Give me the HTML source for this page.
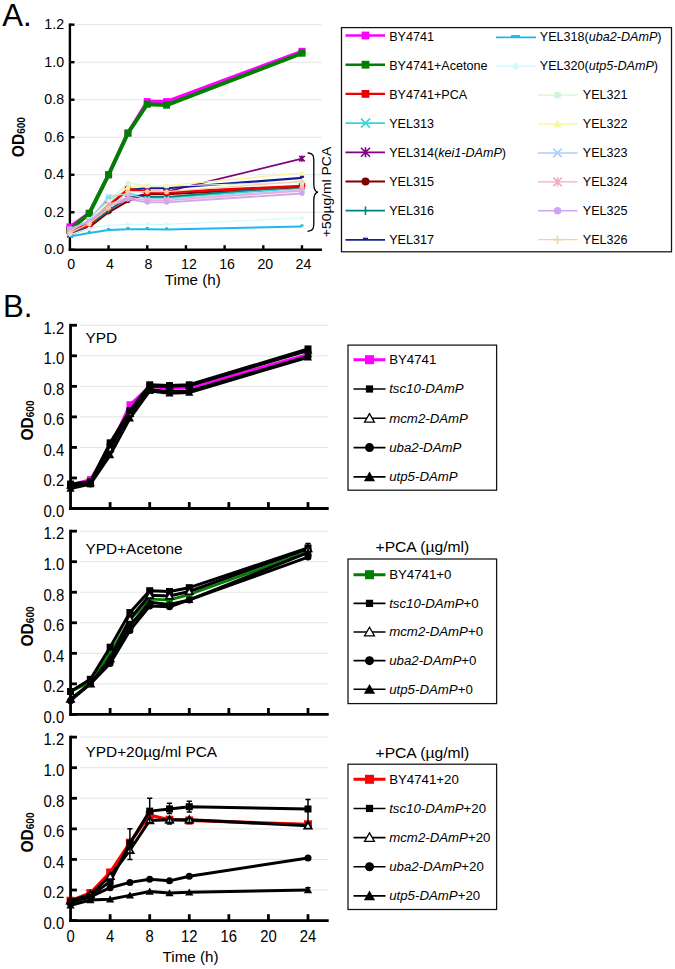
<!DOCTYPE html>
<html><head><meta charset="utf-8"><title>Growth curves</title>
<style>
html,body{margin:0;padding:0;background:#fff;}
body{width:675px;height:969px;overflow:hidden;}
svg{display:block;}
text{font-family:"Liberation Sans", sans-serif;fill:#000;}
</style></head>
<body>
<svg width="675" height="969" viewBox="0 0 675 969">
<rect width="675" height="969" fill="#fff"/>
<text x="2.2" y="25.5" font-size="31.2">A.</text>
<line x1="76.2" y1="212.28" x2="321.5" y2="212.28" stroke="#e4e4e4" stroke-width="1"/>
<line x1="76.2" y1="174.76" x2="321.5" y2="174.76" stroke="#e4e4e4" stroke-width="1"/>
<line x1="76.2" y1="137.24" x2="321.5" y2="137.24" stroke="#e4e4e4" stroke-width="1"/>
<line x1="76.2" y1="99.72" x2="321.5" y2="99.72" stroke="#e4e4e4" stroke-width="1"/>
<line x1="76.2" y1="62.2" x2="321.5" y2="62.2" stroke="#e4e4e4" stroke-width="1"/>
<line x1="76.2" y1="24.68" x2="321.5" y2="24.68" stroke="#e4e4e4" stroke-width="1"/>
<line x1="69.9" y1="23.48" x2="69.9" y2="251" stroke="#000" stroke-width="2.4"/>
<line x1="69.9" y1="249.8" x2="74.5" y2="249.8" stroke="#000" stroke-width="2.4"/>
<text transform="translate(64.1 254.4) scale(1.000 1.060)" font-size="14.2" text-anchor="end">0.0</text>
<line x1="69.9" y1="212.28" x2="74.5" y2="212.28" stroke="#000" stroke-width="2.4"/>
<text transform="translate(64.1 216.88) scale(1.000 1.060)" font-size="14.2" text-anchor="end">0.2</text>
<line x1="69.9" y1="174.76" x2="74.5" y2="174.76" stroke="#000" stroke-width="2.4"/>
<text transform="translate(64.1 179.36) scale(1.000 1.060)" font-size="14.2" text-anchor="end">0.4</text>
<line x1="69.9" y1="137.24" x2="74.5" y2="137.24" stroke="#000" stroke-width="2.4"/>
<text transform="translate(64.1 141.84) scale(1.000 1.060)" font-size="14.2" text-anchor="end">0.6</text>
<line x1="69.9" y1="99.72" x2="74.5" y2="99.72" stroke="#000" stroke-width="2.4"/>
<text transform="translate(64.1 104.32) scale(1.000 1.060)" font-size="14.2" text-anchor="end">0.8</text>
<line x1="69.9" y1="62.2" x2="74.5" y2="62.2" stroke="#000" stroke-width="2.4"/>
<text transform="translate(64.1 66.8) scale(1.000 1.060)" font-size="14.2" text-anchor="end">1.0</text>
<line x1="69.9" y1="24.68" x2="74.5" y2="24.68" stroke="#000" stroke-width="2.4"/>
<text transform="translate(64.1 29.28) scale(1.000 1.060)" font-size="14.2" text-anchor="end">1.2</text>
<line x1="68.7" y1="249.8" x2="322" y2="249.8" stroke="#000" stroke-width="2.4"/>
<line x1="108.58" y1="249.8" x2="108.58" y2="245.2" stroke="#000" stroke-width="2.4"/>
<line x1="147.26" y1="249.8" x2="147.26" y2="245.2" stroke="#000" stroke-width="2.4"/>
<line x1="185.94" y1="249.8" x2="185.94" y2="245.2" stroke="#000" stroke-width="2.4"/>
<line x1="224.62" y1="249.8" x2="224.62" y2="245.2" stroke="#000" stroke-width="2.4"/>
<line x1="263.3" y1="249.8" x2="263.3" y2="245.2" stroke="#000" stroke-width="2.4"/>
<line x1="301.98" y1="249.8" x2="301.98" y2="245.2" stroke="#000" stroke-width="2.4"/>
<text transform="translate(71.2 268.6) scale(1.000 1.060)" font-size="14.2" text-anchor="middle">0</text>
<text transform="translate(109.88 268.6) scale(1.000 1.060)" font-size="14.2" text-anchor="middle">4</text>
<text transform="translate(148.56 268.6) scale(1.000 1.060)" font-size="14.2" text-anchor="middle">8</text>
<text transform="translate(188.94 268.6) scale(1.000 1.060)" font-size="14.2" text-anchor="middle">12</text>
<text transform="translate(227.12 268.6) scale(1.000 1.060)" font-size="14.2" text-anchor="middle">16</text>
<text transform="translate(265.3 268.6) scale(1.000 1.060)" font-size="14.2" text-anchor="middle">20</text>
<text transform="translate(303.48 268.6) scale(1.000 1.060)" font-size="14.2" text-anchor="middle">24</text>
<text transform="translate(192.8 285.2) scale(1.055 1.000)" font-size="14.4" text-anchor="middle">Time (h)</text>
<text transform="translate(24.2 137.1) rotate(-90)" font-size="15.6" font-weight="bold" text-anchor="middle">OD<tspan font-size="10" dy="1.2">600</tspan></text>
<polyline points="69.9,226.91 89.24,213.22 108.58,174.76 127.92,133.11 147.26,101.6 166.6,101.6 301.98,51.32" fill="none" stroke="#ff00ff" stroke-width="3.6" stroke-linejoin="round" stroke-linecap="butt"/>
<rect x="66.4" y="223.41" width="7" height="7" fill="#ff00ff"/>
<rect x="85.74" y="209.72" width="7" height="7" fill="#ff00ff"/>
<rect x="105.08" y="171.26" width="7" height="7" fill="#ff00ff"/>
<rect x="124.42" y="129.61" width="7" height="7" fill="#ff00ff"/>
<rect x="143.76" y="98.1" width="7" height="7" fill="#ff00ff"/>
<rect x="163.1" y="98.1" width="7" height="7" fill="#ff00ff"/>
<rect x="298.48" y="47.82" width="7" height="7" fill="#ff00ff"/>
<polyline points="69.9,230.1 89.24,213.41 108.58,174.76 127.92,133.11 147.26,104.22 166.6,105.16 301.98,53.2" fill="none" stroke="#008000" stroke-width="3.9" stroke-linejoin="round" stroke-linecap="butt"/>
<rect x="66.4" y="226.6" width="7" height="7" fill="#008000"/>
<rect x="85.74" y="209.91" width="7" height="7" fill="#008000"/>
<rect x="105.08" y="171.26" width="7" height="7" fill="#008000"/>
<rect x="124.42" y="129.61" width="7" height="7" fill="#008000"/>
<rect x="143.76" y="100.72" width="7" height="7" fill="#008000"/>
<rect x="163.1" y="101.66" width="7" height="7" fill="#008000"/>
<rect x="298.48" y="49.7" width="7" height="7" fill="#008000"/>
<polyline points="69.9,232.92 89.24,221.66 108.58,199.15 127.92,193.52 147.26,197.83 166.6,197.83 301.98,187.89" fill="none" stroke="#33d6d6" stroke-width="2" stroke-linejoin="round" stroke-linecap="butt"/>
<path d="M67.4 230.42L72.4 235.42M67.4 235.42L72.4 230.42" stroke="#33d6d6" stroke-width="1.6" fill="none"/>
<path d="M86.74 219.16L91.74 224.16M86.74 224.16L91.74 219.16" stroke="#33d6d6" stroke-width="1.6" fill="none"/>
<path d="M106.08 196.65L111.08 201.65M106.08 201.65L111.08 196.65" stroke="#33d6d6" stroke-width="1.6" fill="none"/>
<path d="M125.42 191.02L130.42 196.02M125.42 196.02L130.42 191.02" stroke="#33d6d6" stroke-width="1.6" fill="none"/>
<path d="M144.76 195.33L149.76 200.33M144.76 200.33L149.76 195.33" stroke="#33d6d6" stroke-width="1.6" fill="none"/>
<path d="M164.1 195.33L169.1 200.33M164.1 200.33L169.1 195.33" stroke="#33d6d6" stroke-width="1.6" fill="none"/>
<path d="M299.48 185.39L304.48 190.39M299.48 190.39L304.48 185.39" stroke="#33d6d6" stroke-width="1.6" fill="none"/>
<polyline points="69.9,234.79 89.24,225.41 108.58,210.4 127.92,198.21 147.26,193.52 166.6,191.64 301.98,158.63" fill="none" stroke="#800080" stroke-width="1.7" stroke-linejoin="round" stroke-linecap="butt"/>
<path d="M67.15 232.04L72.65 237.54M67.15 237.54L72.65 232.04M69.9 231.77L69.9 237.82" stroke="#800080" stroke-width="1.6" fill="none"/>
<path d="M86.49 222.66L91.99 228.16M86.49 228.16L91.99 222.66M89.24 222.39L89.24 228.44" stroke="#800080" stroke-width="1.6" fill="none"/>
<path d="M105.83 207.65L111.33 213.15M105.83 213.15L111.33 207.65M108.58 207.38L108.58 213.43" stroke="#800080" stroke-width="1.6" fill="none"/>
<path d="M125.17 195.46L130.67 200.96M125.17 200.96L130.67 195.46M127.92 195.19L127.92 201.24" stroke="#800080" stroke-width="1.6" fill="none"/>
<path d="M144.51 190.77L150.01 196.27M144.51 196.27L150.01 190.77M147.26 190.5L147.26 196.55" stroke="#800080" stroke-width="1.6" fill="none"/>
<path d="M163.85 188.89L169.35 194.39M163.85 194.39L169.35 188.89M166.6 188.62L166.6 194.67" stroke="#800080" stroke-width="1.6" fill="none"/>
<path d="M299.23 155.88L304.73 161.38M299.23 161.38L304.73 155.88M301.98 155.6L301.98 161.65" stroke="#800080" stroke-width="1.6" fill="none"/>
<polyline points="69.9,234.79 89.24,227.29 108.58,212.28 127.92,201.02 147.26,194.08 166.6,194.27 301.98,186.95" fill="none" stroke="#800000" stroke-width="2" stroke-linejoin="round" stroke-linecap="butt"/>
<circle cx="69.9" cy="234.79" r="2.25" fill="#800000"/>
<circle cx="89.24" cy="227.29" r="2.25" fill="#800000"/>
<circle cx="108.58" cy="212.28" r="2.25" fill="#800000"/>
<circle cx="127.92" cy="201.02" r="2.25" fill="#800000"/>
<circle cx="147.26" cy="194.08" r="2.25" fill="#800000"/>
<circle cx="166.6" cy="194.27" r="2.25" fill="#800000"/>
<circle cx="301.98" cy="186.95" r="2.25" fill="#800000"/>
<polyline points="69.9,232.92 89.24,225.41 108.58,210.4 127.92,197.27 147.26,196.9 166.6,196.9 301.98,186.02" fill="none" stroke="#008080" stroke-width="1.6" stroke-linejoin="round" stroke-linecap="butt"/>
<path d="M69.9 229.92L69.9 235.92" stroke="#008080" stroke-width="1.6" fill="none"/>
<path d="M89.24 222.41L89.24 228.41" stroke="#008080" stroke-width="1.6" fill="none"/>
<path d="M108.58 207.4L108.58 213.4" stroke="#008080" stroke-width="1.6" fill="none"/>
<path d="M127.92 194.27L127.92 200.27" stroke="#008080" stroke-width="1.6" fill="none"/>
<path d="M147.26 193.9L147.26 199.9" stroke="#008080" stroke-width="1.6" fill="none"/>
<path d="M166.6 193.9L166.6 199.9" stroke="#008080" stroke-width="1.6" fill="none"/>
<path d="M301.98 183.02L301.98 189.02" stroke="#008080" stroke-width="1.6" fill="none"/>
<polyline points="69.9,231.04 89.24,223.54 108.58,206.65 127.92,189.77 147.26,188.27 166.6,188.27 301.98,177.95" fill="none" stroke="#1a1a9a" stroke-width="2.2" stroke-linejoin="round" stroke-linecap="butt"/>
<rect x="67.9" y="228.84" width="4" height="2.2" fill="#1a1a9a"/>
<rect x="87.24" y="221.34" width="4" height="2.2" fill="#1a1a9a"/>
<rect x="106.58" y="204.45" width="4" height="2.2" fill="#1a1a9a"/>
<rect x="125.92" y="187.57" width="4" height="2.2" fill="#1a1a9a"/>
<rect x="145.26" y="186.07" width="4" height="2.2" fill="#1a1a9a"/>
<rect x="164.6" y="186.07" width="4" height="2.2" fill="#1a1a9a"/>
<rect x="299.98" y="175.75" width="4" height="2.2" fill="#1a1a9a"/>
<polyline points="69.9,231.04 89.24,224.1 108.58,204.78 127.92,189.02 147.26,191.83 166.6,192.21 301.98,186.02" fill="none" stroke="#ee0000" stroke-width="2.6" stroke-linejoin="round" stroke-linecap="butt"/>
<rect x="67.3" y="228.44" width="5.2" height="5.2" fill="#f6c9bf" stroke="#ee0000" stroke-width="1.2"/>
<rect x="86.64" y="221.5" width="5.2" height="5.2" fill="#f6c9bf" stroke="#ee0000" stroke-width="1.2"/>
<rect x="105.98" y="202.18" width="5.2" height="5.2" fill="#f6c9bf" stroke="#ee0000" stroke-width="1.2"/>
<rect x="125.32" y="186.42" width="5.2" height="5.2" fill="#f6c9bf" stroke="#ee0000" stroke-width="1.2"/>
<rect x="144.66" y="189.23" width="5.2" height="5.2" fill="#f6c9bf" stroke="#ee0000" stroke-width="1.2"/>
<rect x="164" y="189.61" width="5.2" height="5.2" fill="#f6c9bf" stroke="#ee0000" stroke-width="1.2"/>
<rect x="299.38" y="183.42" width="5.2" height="5.2" fill="#f6c9bf" stroke="#ee0000" stroke-width="1.2"/>
<polyline points="69.9,236.48 89.24,232.92 108.58,230.1 127.92,229.16 147.26,229.16 166.6,229.54 301.98,226.54" fill="none" stroke="#20b8e8" stroke-width="2" stroke-linejoin="round" stroke-linecap="butt"/>
<rect x="68.4" y="234.28" width="3" height="2.2" fill="#20b8e8"/>
<rect x="87.74" y="230.72" width="3" height="2.2" fill="#20b8e8"/>
<rect x="107.08" y="227.9" width="3" height="2.2" fill="#20b8e8"/>
<rect x="126.42" y="226.96" width="3" height="2.2" fill="#20b8e8"/>
<rect x="145.76" y="226.96" width="3" height="2.2" fill="#20b8e8"/>
<rect x="165.1" y="227.34" width="3" height="2.2" fill="#20b8e8"/>
<rect x="300.48" y="224.34" width="3" height="2.2" fill="#20b8e8"/>
<polyline points="69.9,234.79 89.24,228.23 108.58,225.41 127.92,224.29 147.26,224.29 166.6,224.29 301.98,217.91" fill="none" stroke="#d2fafa" stroke-width="1.3" stroke-linejoin="round" stroke-linecap="butt"/>
<path d="M69.9 232.54L72.15 234.79L69.9 237.04L67.65 234.79Z" fill="#d2fafa"/>
<path d="M89.24 225.98L91.49 228.23L89.24 230.48L86.99 228.23Z" fill="#d2fafa"/>
<path d="M108.58 223.16L110.83 225.41L108.58 227.66L106.33 225.41Z" fill="#d2fafa"/>
<path d="M127.92 222.04L130.17 224.29L127.92 226.54L125.67 224.29Z" fill="#d2fafa"/>
<path d="M147.26 222.04L149.51 224.29L147.26 226.54L145.01 224.29Z" fill="#d2fafa"/>
<path d="M166.6 222.04L168.85 224.29L166.6 226.54L164.35 224.29Z" fill="#d2fafa"/>
<path d="M301.98 215.66L304.23 217.91L301.98 220.16L299.73 217.91Z" fill="#d2fafa"/>
<polyline points="69.9,231.04 89.24,219.78 108.58,201.02 127.92,183.2 147.26,186.02 166.6,186.02 301.98,182.26" fill="none" stroke="#d4f5d4" stroke-width="1.2" stroke-linejoin="round" stroke-linecap="butt"/>
<rect x="67.65" y="228.79" width="4.5" height="4.5" fill="#d4f5d4"/>
<rect x="86.99" y="217.53" width="4.5" height="4.5" fill="#d4f5d4"/>
<rect x="106.33" y="198.77" width="4.5" height="4.5" fill="#d4f5d4"/>
<rect x="125.67" y="180.95" width="4.5" height="4.5" fill="#d4f5d4"/>
<rect x="145.01" y="183.77" width="4.5" height="4.5" fill="#d4f5d4"/>
<rect x="164.35" y="183.77" width="4.5" height="4.5" fill="#d4f5d4"/>
<rect x="299.73" y="180.01" width="4.5" height="4.5" fill="#d4f5d4"/>
<polyline points="69.9,231.04 89.24,219.78 108.58,202.9 127.92,186.95 147.26,185.64 166.6,185.64 301.98,172.88" fill="none" stroke="#f7f7a0" stroke-width="1.4" stroke-linejoin="round" stroke-linecap="butt"/>
<path d="M69.9 228.42L72.65 233.17L67.15 233.17Z" fill="#f7f7a0"/>
<path d="M89.24 217.16L91.99 221.91L86.49 221.91Z" fill="#f7f7a0"/>
<path d="M108.58 200.28L111.33 205.03L105.83 205.03Z" fill="#f7f7a0"/>
<path d="M127.92 184.33L130.67 189.08L125.17 189.08Z" fill="#f7f7a0"/>
<path d="M147.26 183.02L150.01 187.77L144.51 187.77Z" fill="#f7f7a0"/>
<path d="M166.6 183.02L169.35 187.77L163.85 187.77Z" fill="#f7f7a0"/>
<path d="M301.98 170.26L304.73 175.01L299.23 175.01Z" fill="#f7f7a0"/>
<polyline points="69.9,231.04 89.24,219.78 108.58,196.52 127.92,193.52 147.26,199.15 166.6,199.15 301.98,189.77" fill="none" stroke="#a8d0f5" stroke-width="1.3" stroke-linejoin="round" stroke-linecap="butt"/>
<path d="M67.4 228.54L72.4 233.54M67.4 233.54L72.4 228.54" stroke="#a8d0f5" stroke-width="1.6" fill="none"/>
<path d="M86.74 217.28L91.74 222.28M86.74 222.28L91.74 217.28" stroke="#a8d0f5" stroke-width="1.6" fill="none"/>
<path d="M106.08 194.02L111.08 199.02M106.08 199.02L111.08 194.02" stroke="#a8d0f5" stroke-width="1.6" fill="none"/>
<path d="M125.42 191.02L130.42 196.02M125.42 196.02L130.42 191.02" stroke="#a8d0f5" stroke-width="1.6" fill="none"/>
<path d="M144.76 196.65L149.76 201.65M144.76 201.65L149.76 196.65" stroke="#a8d0f5" stroke-width="1.6" fill="none"/>
<path d="M164.1 196.65L169.1 201.65M164.1 201.65L169.1 196.65" stroke="#a8d0f5" stroke-width="1.6" fill="none"/>
<path d="M299.48 187.27L304.48 192.27M299.48 192.27L304.48 187.27" stroke="#a8d0f5" stroke-width="1.6" fill="none"/>
<polyline points="69.9,229.16 89.24,221.66 108.58,204.78 127.92,197.27 147.26,200.46 166.6,200.46 301.98,190.89" fill="none" stroke="#f5a8cc" stroke-width="1.6" stroke-linejoin="round" stroke-linecap="butt"/>
<path d="M67.4 226.66L72.4 231.66M67.4 231.66L72.4 226.66M69.9 226.41L69.9 231.91" stroke="#f5a8cc" stroke-width="1.6" fill="none"/>
<path d="M86.74 219.16L91.74 224.16M86.74 224.16L91.74 219.16M89.24 218.91L89.24 224.41" stroke="#f5a8cc" stroke-width="1.6" fill="none"/>
<path d="M106.08 202.28L111.08 207.28M106.08 207.28L111.08 202.28M108.58 202.03L108.58 207.53" stroke="#f5a8cc" stroke-width="1.6" fill="none"/>
<path d="M125.42 194.77L130.42 199.77M125.42 199.77L130.42 194.77M127.92 194.52L127.92 200.02" stroke="#f5a8cc" stroke-width="1.6" fill="none"/>
<path d="M144.76 197.96L149.76 202.96M144.76 202.96L149.76 197.96M147.26 197.71L147.26 203.21" stroke="#f5a8cc" stroke-width="1.6" fill="none"/>
<path d="M164.1 197.96L169.1 202.96M164.1 202.96L169.1 197.96M166.6 197.71L166.6 203.21" stroke="#f5a8cc" stroke-width="1.6" fill="none"/>
<path d="M299.48 188.39L304.48 193.39M299.48 193.39L304.48 188.39M301.98 188.14L301.98 193.64" stroke="#f5a8cc" stroke-width="1.6" fill="none"/>
<polyline points="69.9,228.79 89.24,221.66 108.58,206.65 127.92,199.15 147.26,202.34 166.6,202.34 301.98,193.52" fill="none" stroke="#cda5f5" stroke-width="1.8" stroke-linejoin="round" stroke-linecap="butt"/>
<circle cx="69.9" cy="228.79" r="2.5" fill="#cda5f5"/>
<circle cx="89.24" cy="221.66" r="2.5" fill="#cda5f5"/>
<circle cx="108.58" cy="206.65" r="2.5" fill="#cda5f5"/>
<circle cx="127.92" cy="199.15" r="2.5" fill="#cda5f5"/>
<circle cx="147.26" cy="202.34" r="2.5" fill="#cda5f5"/>
<circle cx="166.6" cy="202.34" r="2.5" fill="#cda5f5"/>
<circle cx="301.98" cy="193.52" r="2.5" fill="#cda5f5"/>
<polyline points="69.9,232.92 89.24,223.54 108.58,208.53 127.92,191.64 147.26,191.64 166.6,191.64 301.98,181.33" fill="none" stroke="#f5d0a8" stroke-width="1.3" stroke-linejoin="round" stroke-linecap="butt"/>
<path d="M69.9 230.42L69.9 235.42M67.4 232.92L72.4 232.92" stroke="#f5d0a8" stroke-width="1.6" fill="none"/>
<path d="M89.24 221.04L89.24 226.04M86.74 223.54L91.74 223.54" stroke="#f5d0a8" stroke-width="1.6" fill="none"/>
<path d="M108.58 206.03L108.58 211.03M106.08 208.53L111.08 208.53" stroke="#f5d0a8" stroke-width="1.6" fill="none"/>
<path d="M127.92 189.14L127.92 194.14M125.42 191.64L130.42 191.64" stroke="#f5d0a8" stroke-width="1.6" fill="none"/>
<path d="M147.26 189.14L147.26 194.14M144.76 191.64L149.76 191.64" stroke="#f5d0a8" stroke-width="1.6" fill="none"/>
<path d="M166.6 189.14L166.6 194.14M164.1 191.64L169.1 191.64" stroke="#f5d0a8" stroke-width="1.6" fill="none"/>
<path d="M301.98 178.83L301.98 183.83M299.48 181.33L304.48 181.33" stroke="#f5d0a8" stroke-width="1.6" fill="none"/>
<path d="M307.5 152.8 C313.5 153.2 313.8 156 313.8 162 L313.8 184 C313.8 189.5 315 191.8 318 192.2 C315 192.6 313.8 195 313.8 200.5 L313.8 222 C313.8 228 313.5 230.8 307.5 231.3" fill="none" stroke="#000" stroke-width="1.3"/>
<text transform="translate(331.2 192) rotate(-90) scale(1.07 1)" font-size="13" text-anchor="middle">+50&#181;g/ml PCA</text>
<rect x="341.5" y="27.6" width="330" height="224.2" fill="none" stroke="#111" stroke-width="1.25"/>
<line x1="345.5" y1="35.5" x2="385" y2="35.5" stroke="#ff00ff" stroke-width="2.4"/>
<rect x="361.6" y="31.6" width="7.8" height="7.8" fill="#ff00ff"/>
<text transform="translate(389.2 41.1) scale(1.000 1.070)" font-size="12.6">BY4741</text>
<line x1="345.5" y1="64.7" x2="385" y2="64.7" stroke="#008000" stroke-width="2.4"/>
<rect x="361.6" y="60.8" width="7.8" height="7.8" fill="#008000"/>
<text transform="translate(389.2 70.13) scale(1.000 1.070)" font-size="12.6">BY4741+Acetone</text>
<line x1="345.5" y1="93.9" x2="385" y2="93.9" stroke="#ee0000" stroke-width="2.4"/>
<rect x="361.6" y="90" width="7.8" height="7.8" fill="#ee0000"/>
<text transform="translate(389.2 99.16) scale(1.000 1.070)" font-size="12.6">BY4741+PCA</text>
<line x1="345.5" y1="123.1" x2="385" y2="123.1" stroke="#33d6d6" stroke-width="1.8"/>
<path d="M361 118.6L370 127.6M361 127.6L370 118.6" stroke="#33d6d6" stroke-width="1.6" fill="none"/>
<text transform="translate(389.2 128.19) scale(1.000 1.070)" font-size="12.6">YEL313</text>
<line x1="345.5" y1="152.3" x2="385" y2="152.3" stroke="#800080" stroke-width="1.8"/>
<path d="M361 147.8L370 156.8M361 156.8L370 147.8M365.5 147.35L365.5 157.25" stroke="#800080" stroke-width="1.6" fill="none"/>
<text transform="translate(389.2 157.22) scale(1.000 1.070)" font-size="12.6">YEL314(<tspan font-style="italic">kei1-DAmP</tspan>)</text>
<line x1="345.5" y1="181.5" x2="385" y2="181.5" stroke="#800000" stroke-width="1.8"/>
<circle cx="365.5" cy="181.5" r="4" fill="#800000"/>
<text transform="translate(389.2 186.25) scale(1.000 1.070)" font-size="12.6">YEL315</text>
<line x1="345.5" y1="210.7" x2="385" y2="210.7" stroke="#008080" stroke-width="1.8"/>
<path d="M365.5 206.45L365.5 214.95" stroke="#008080" stroke-width="1.6" fill="none"/>
<text transform="translate(389.2 215.28) scale(1.000 1.070)" font-size="12.6">YEL316</text>
<line x1="345.5" y1="239.9" x2="385" y2="239.9" stroke="#1a1a9a" stroke-width="1.8"/>
<rect x="363" y="237.7" width="5" height="2.2" fill="#1a1a9a"/>
<text transform="translate(389.2 244.31) scale(1.000 1.070)" font-size="12.6">YEL317</text>
<line x1="496" y1="37.3" x2="536" y2="37.3" stroke="#20b8e8" stroke-width="1.8"/>
<rect x="511" y="35.1" width="9" height="2.2" fill="#20b8e8"/>
<text transform="translate(539.8 41.1) scale(1.000 1.070)" font-size="12.6">YEL318(<tspan font-style="italic">uba2-DAmP</tspan>)</text>
<line x1="496" y1="66.21" x2="536" y2="66.21" stroke="#d2fafa" stroke-width="1.4"/>
<path d="M515.5 61.96L519.75 66.21L515.5 70.46L511.25 66.21Z" fill="#d2fafa"/>
<text transform="translate(539.8 70.13) scale(1.000 1.070)" font-size="12.6">YEL320(<tspan font-style="italic">utp5-DAmP</tspan>)</text>
<line x1="538" y1="95.12" x2="577.5" y2="95.12" stroke="#d4f5d4" stroke-width="1.4"/>
<rect x="554.25" y="91.87" width="6.5" height="6.5" fill="#d4f5d4"/>
<text transform="translate(582.8 99.16) scale(1.000 1.070)" font-size="12.6">YEL321</text>
<line x1="538" y1="124.03" x2="577.5" y2="124.03" stroke="#f7f7a0" stroke-width="1.4"/>
<path d="M557.5 120.09L561.62 127.22L553.38 127.22Z" fill="#f7f7a0"/>
<text transform="translate(582.8 128.19) scale(1.000 1.070)" font-size="12.6">YEL322</text>
<line x1="538" y1="152.94" x2="577.5" y2="152.94" stroke="#a8d0f5" stroke-width="1.4"/>
<path d="M553.25 148.69L561.75 157.19M553.25 157.19L561.75 148.69" stroke="#a8d0f5" stroke-width="1.6" fill="none"/>
<text transform="translate(582.8 157.22) scale(1.000 1.070)" font-size="12.6">YEL323</text>
<line x1="538" y1="181.85" x2="577.5" y2="181.85" stroke="#f5a8cc" stroke-width="1.4"/>
<path d="M553.25 177.6L561.75 186.1M553.25 186.1L561.75 177.6M557.5 177.18L557.5 186.53" stroke="#f5a8cc" stroke-width="1.6" fill="none"/>
<text transform="translate(582.8 186.25) scale(1.000 1.070)" font-size="12.6">YEL324</text>
<line x1="538" y1="210.76" x2="577.5" y2="210.76" stroke="#cda5f5" stroke-width="1.4"/>
<circle cx="557.5" cy="210.76" r="3.75" fill="#cda5f5"/>
<text transform="translate(582.8 215.28) scale(1.000 1.070)" font-size="12.6">YEL325</text>
<line x1="538" y1="239.67" x2="577.5" y2="239.67" stroke="#f5d0a8" stroke-width="1.4"/>
<path d="M557.5 235.42L557.5 243.92M553.25 239.67L561.75 239.67" stroke="#f5d0a8" stroke-width="1.6" fill="none"/>
<text transform="translate(582.8 244.31) scale(1.000 1.070)" font-size="12.6">YEL326</text>
<text x="3" y="317" font-size="31.2">B.</text>
<line x1="80" y1="477.96" x2="328" y2="477.96" stroke="#e4e4e4" stroke-width="1"/>
<line x1="80" y1="447.42" x2="328" y2="447.42" stroke="#e4e4e4" stroke-width="1"/>
<line x1="80" y1="416.88" x2="328" y2="416.88" stroke="#e4e4e4" stroke-width="1"/>
<line x1="80" y1="386.34" x2="328" y2="386.34" stroke="#e4e4e4" stroke-width="1"/>
<line x1="80" y1="355.8" x2="328" y2="355.8" stroke="#e4e4e4" stroke-width="1"/>
<line x1="80" y1="325.26" x2="328" y2="325.26" stroke="#e4e4e4" stroke-width="1"/>
<line x1="70.55" y1="323.86" x2="70.55" y2="509.9" stroke="#000" stroke-width="2.8"/>
<line x1="70.55" y1="508.5" x2="76.95" y2="508.5" stroke="#000" stroke-width="2.8"/>
<text transform="translate(64.25 516.8) scale(1.000 1.060)" font-size="14.9" text-anchor="end">0.0</text>
<line x1="70.55" y1="477.96" x2="76.95" y2="477.96" stroke="#000" stroke-width="2.8"/>
<text transform="translate(64.25 486.26) scale(1.000 1.060)" font-size="14.9" text-anchor="end">0.2</text>
<line x1="70.55" y1="447.42" x2="76.95" y2="447.42" stroke="#000" stroke-width="2.8"/>
<text transform="translate(64.25 455.72) scale(1.000 1.060)" font-size="14.9" text-anchor="end">0.4</text>
<line x1="70.55" y1="416.88" x2="76.95" y2="416.88" stroke="#000" stroke-width="2.8"/>
<text transform="translate(64.25 425.18) scale(1.000 1.060)" font-size="14.9" text-anchor="end">0.6</text>
<line x1="70.55" y1="386.34" x2="76.95" y2="386.34" stroke="#000" stroke-width="2.8"/>
<text transform="translate(64.25 394.64) scale(1.000 1.060)" font-size="14.9" text-anchor="end">0.8</text>
<line x1="70.55" y1="355.8" x2="76.95" y2="355.8" stroke="#000" stroke-width="2.8"/>
<text transform="translate(64.25 364.1) scale(1.000 1.060)" font-size="14.9" text-anchor="end">1.0</text>
<line x1="70.55" y1="325.26" x2="76.95" y2="325.26" stroke="#000" stroke-width="2.8"/>
<text transform="translate(64.25 333.56) scale(1.000 1.060)" font-size="14.9" text-anchor="end">1.2</text>
<line x1="69.15" y1="508.5" x2="328.7" y2="508.5" stroke="#000" stroke-width="2.8"/>
<line x1="110.13" y1="508.5" x2="110.13" y2="502.1" stroke="#000" stroke-width="2.8"/>
<line x1="149.7" y1="508.5" x2="149.7" y2="502.1" stroke="#000" stroke-width="2.8"/>
<line x1="189.28" y1="508.5" x2="189.28" y2="502.1" stroke="#000" stroke-width="2.8"/>
<line x1="228.85" y1="508.5" x2="228.85" y2="502.1" stroke="#000" stroke-width="2.8"/>
<line x1="268.43" y1="508.5" x2="268.43" y2="502.1" stroke="#000" stroke-width="2.8"/>
<line x1="308.01" y1="508.5" x2="308.01" y2="502.1" stroke="#000" stroke-width="2.8"/>
<text transform="translate(85.5 343.3) scale(1.055 1.060)" font-size="14.6">YPD</text>
<text transform="translate(32.6 420.58) rotate(-90)" font-size="15.6" font-weight="bold" text-anchor="middle">OD<tspan font-size="10" dy="1.2">600</tspan></text>
<polyline points="70.55,484.83 90.34,479.49 110.13,447.42 129.91,404.66 149.7,386.34 169.49,388.63 189.28,387.87 308.01,354.27" fill="none" stroke="#ff00ff" stroke-width="2.8" stroke-linejoin="round" stroke-linecap="butt"/>
<rect x="67.15" y="481.43" width="6.8" height="6.8" fill="#ff00ff"/>
<rect x="86.94" y="476.09" width="6.8" height="6.8" fill="#ff00ff"/>
<rect x="106.73" y="444.02" width="6.8" height="6.8" fill="#ff00ff"/>
<rect x="126.51" y="401.26" width="6.8" height="6.8" fill="#ff00ff"/>
<rect x="146.3" y="382.94" width="6.8" height="6.8" fill="#ff00ff"/>
<rect x="166.09" y="385.23" width="6.8" height="6.8" fill="#ff00ff"/>
<rect x="185.88" y="384.47" width="6.8" height="6.8" fill="#ff00ff"/>
<rect x="304.61" y="350.87" width="6.8" height="6.8" fill="#ff00ff"/>
<polyline points="70.55,485.6 90.34,482.54 110.13,448.95 129.91,413.83 149.7,386.34 169.49,386.34 189.28,385.58 308.01,350.46" fill="none" stroke="#000" stroke-width="3" stroke-linejoin="round" stroke-linecap="butt"/>
<path d="M70.55 482.71L73.58 487.93L67.52 487.93Z" fill="#fff" stroke="#000" stroke-width="1.7" stroke-linejoin="miter"/>
<path d="M90.34 479.65L93.36 484.88L87.31 484.88Z" fill="#fff" stroke="#000" stroke-width="1.7" stroke-linejoin="miter"/>
<path d="M110.13 446.06L113.15 451.28L107.1 451.28Z" fill="#fff" stroke="#000" stroke-width="1.7" stroke-linejoin="miter"/>
<path d="M129.91 410.94L132.94 416.16L126.89 416.16Z" fill="#fff" stroke="#000" stroke-width="1.7" stroke-linejoin="miter"/>
<path d="M149.7 383.45L152.73 388.68L146.68 388.68Z" fill="#fff" stroke="#000" stroke-width="1.7" stroke-linejoin="miter"/>
<path d="M169.49 383.45L172.52 388.68L166.47 388.68Z" fill="#fff" stroke="#000" stroke-width="1.7" stroke-linejoin="miter"/>
<path d="M189.28 382.69L192.3 387.91L186.25 387.91Z" fill="#fff" stroke="#000" stroke-width="1.7" stroke-linejoin="miter"/>
<path d="M308.01 347.57L311.03 352.79L304.98 352.79Z" fill="#fff" stroke="#000" stroke-width="1.7" stroke-linejoin="miter"/>
<polyline points="70.55,484.07 90.34,481.78 110.13,442.84 129.91,410.77 149.7,384.81 169.49,385.58 189.28,384.81 308.01,348.93" fill="none" stroke="#000" stroke-width="3" stroke-linejoin="round" stroke-linecap="butt"/>
<rect x="67.05" y="480.57" width="7" height="7" fill="#000"/>
<rect x="86.84" y="478.28" width="7" height="7" fill="#000"/>
<rect x="106.63" y="439.34" width="7" height="7" fill="#000"/>
<rect x="126.41" y="407.27" width="7" height="7" fill="#000"/>
<rect x="146.2" y="381.31" width="7" height="7" fill="#000"/>
<rect x="165.99" y="382.08" width="7" height="7" fill="#000"/>
<rect x="185.78" y="381.31" width="7" height="7" fill="#000"/>
<rect x="304.51" y="345.43" width="7" height="7" fill="#000"/>
<polyline points="70.55,487.12 90.34,484.07 110.13,444.37 129.91,410.77 149.7,389.39 169.49,391.68 189.28,390.92 308.01,356.56" fill="none" stroke="#000" stroke-width="3" stroke-linejoin="round" stroke-linecap="butt"/>
<circle cx="70.55" cy="487.12" r="3.5" fill="#000"/>
<circle cx="90.34" cy="484.07" r="3.5" fill="#000"/>
<circle cx="110.13" cy="444.37" r="3.5" fill="#000"/>
<circle cx="129.91" cy="410.77" r="3.5" fill="#000"/>
<circle cx="149.7" cy="389.39" r="3.5" fill="#000"/>
<circle cx="169.49" cy="391.68" r="3.5" fill="#000"/>
<circle cx="189.28" cy="390.92" r="3.5" fill="#000"/>
<circle cx="308.01" cy="356.56" r="3.5" fill="#000"/>
<polyline points="70.55,488.65 90.34,484.07 110.13,455.06 129.91,418.41 149.7,390.92 169.49,393.21 189.28,392.45 308.01,357.33" fill="none" stroke="#000" stroke-width="3" stroke-linejoin="round" stroke-linecap="butt"/>
<path d="M70.55 484.71L74.67 491.84L66.42 491.84Z" fill="#000"/>
<path d="M90.34 480.13L94.46 487.26L86.21 487.26Z" fill="#000"/>
<path d="M110.13 451.12L114.25 458.24L106 458.24Z" fill="#000"/>
<path d="M129.91 414.47L134.04 421.59L125.79 421.59Z" fill="#000"/>
<path d="M149.7 386.98L153.83 394.11L145.58 394.11Z" fill="#000"/>
<path d="M169.49 389.27L173.62 396.4L165.37 396.4Z" fill="#000"/>
<path d="M189.28 388.51L193.4 395.64L185.15 395.64Z" fill="#000"/>
<path d="M308.01 353.39L312.13 360.51L303.88 360.51Z" fill="#000"/>
<rect x="348" y="345.1" width="148.6" height="145.1" fill="none" stroke="#111" stroke-width="1.25"/>
<line x1="353.5" y1="359.7" x2="385.5" y2="359.7" stroke="#ff00ff" stroke-width="3"/>
<rect x="365" y="355.2" width="9" height="9" fill="#ff00ff"/>
<text x="389.2" y="364" font-size="13.25">BY4741</text>
<line x1="353.5" y1="389" x2="385.5" y2="389" stroke="#000" stroke-width="1.6"/>
<rect x="365.9" y="385.4" width="7.2" height="7.2" fill="#000"/>
<text x="389.2" y="393.3" font-size="13.25"><tspan font-style="italic">tsc10-DAmP</tspan></text>
<line x1="353.5" y1="418.3" x2="385.5" y2="418.3" stroke="#000" stroke-width="1.6"/>
<path d="M369.5 413.57L374.45 422.12L364.55 422.12Z" fill="#fff" stroke="#000" stroke-width="1.3" stroke-linejoin="miter"/>
<text x="389.2" y="422.6" font-size="13.25"><tspan font-style="italic">mcm2-DAmP</tspan></text>
<line x1="353.5" y1="447.6" x2="385.5" y2="447.6" stroke="#000" stroke-width="1.6"/>
<circle cx="369.5" cy="447.6" r="4.5" fill="#000"/>
<text x="389.2" y="451.9" font-size="13.25"><tspan font-style="italic">uba2-DAmP</tspan></text>
<line x1="353.5" y1="476.9" x2="385.5" y2="476.9" stroke="#000" stroke-width="1.6"/>
<path d="M369.5 471.54L375.11 481.23L363.89 481.23Z" fill="#000"/>
<text x="389.2" y="481.2" font-size="13.25"><tspan font-style="italic">utp5-DAmP</tspan></text>
<line x1="80" y1="683.86" x2="328" y2="683.86" stroke="#e4e4e4" stroke-width="1"/>
<line x1="80" y1="653.32" x2="328" y2="653.32" stroke="#e4e4e4" stroke-width="1"/>
<line x1="80" y1="622.78" x2="328" y2="622.78" stroke="#e4e4e4" stroke-width="1"/>
<line x1="80" y1="592.24" x2="328" y2="592.24" stroke="#e4e4e4" stroke-width="1"/>
<line x1="80" y1="561.7" x2="328" y2="561.7" stroke="#e4e4e4" stroke-width="1"/>
<line x1="80" y1="531.16" x2="328" y2="531.16" stroke="#e4e4e4" stroke-width="1"/>
<line x1="70.55" y1="529.76" x2="70.55" y2="715.8" stroke="#000" stroke-width="2.8"/>
<line x1="70.55" y1="714.4" x2="76.95" y2="714.4" stroke="#000" stroke-width="2.8"/>
<text transform="translate(64.25 722.7) scale(1.000 1.060)" font-size="14.9" text-anchor="end">0.0</text>
<line x1="70.55" y1="683.86" x2="76.95" y2="683.86" stroke="#000" stroke-width="2.8"/>
<text transform="translate(64.25 692.16) scale(1.000 1.060)" font-size="14.9" text-anchor="end">0.2</text>
<line x1="70.55" y1="653.32" x2="76.95" y2="653.32" stroke="#000" stroke-width="2.8"/>
<text transform="translate(64.25 661.62) scale(1.000 1.060)" font-size="14.9" text-anchor="end">0.4</text>
<line x1="70.55" y1="622.78" x2="76.95" y2="622.78" stroke="#000" stroke-width="2.8"/>
<text transform="translate(64.25 631.08) scale(1.000 1.060)" font-size="14.9" text-anchor="end">0.6</text>
<line x1="70.55" y1="592.24" x2="76.95" y2="592.24" stroke="#000" stroke-width="2.8"/>
<text transform="translate(64.25 600.54) scale(1.000 1.060)" font-size="14.9" text-anchor="end">0.8</text>
<line x1="70.55" y1="561.7" x2="76.95" y2="561.7" stroke="#000" stroke-width="2.8"/>
<text transform="translate(64.25 570) scale(1.000 1.060)" font-size="14.9" text-anchor="end">1.0</text>
<line x1="70.55" y1="531.16" x2="76.95" y2="531.16" stroke="#000" stroke-width="2.8"/>
<text transform="translate(64.25 539.46) scale(1.000 1.060)" font-size="14.9" text-anchor="end">1.2</text>
<line x1="69.15" y1="714.4" x2="328.7" y2="714.4" stroke="#000" stroke-width="2.8"/>
<line x1="110.13" y1="714.4" x2="110.13" y2="708" stroke="#000" stroke-width="2.8"/>
<line x1="149.7" y1="714.4" x2="149.7" y2="708" stroke="#000" stroke-width="2.8"/>
<line x1="189.28" y1="714.4" x2="189.28" y2="708" stroke="#000" stroke-width="2.8"/>
<line x1="228.85" y1="714.4" x2="228.85" y2="708" stroke="#000" stroke-width="2.8"/>
<line x1="268.43" y1="714.4" x2="268.43" y2="708" stroke="#000" stroke-width="2.8"/>
<line x1="308.01" y1="714.4" x2="308.01" y2="708" stroke="#000" stroke-width="2.8"/>
<text transform="translate(85.5 553.5) scale(1.055 1.060)" font-size="14.6">YPD+Acetone</text>
<text transform="translate(32.6 626.48) rotate(-90)" font-size="15.6" font-weight="bold" text-anchor="middle">OD<tspan font-size="10" dy="1.2">600</tspan></text>
<polyline points="70.55,691.5 90.34,682.33 110.13,653.32 129.91,619.73 149.7,599.11 169.49,599.88 189.28,594.53 308.01,551.77" fill="none" stroke="#008000" stroke-width="2.8" stroke-linejoin="round" stroke-linecap="butt"/>
<rect x="67.15" y="688.1" width="6.8" height="6.8" fill="#008000"/>
<rect x="86.94" y="678.93" width="6.8" height="6.8" fill="#008000"/>
<rect x="106.73" y="649.92" width="6.8" height="6.8" fill="#008000"/>
<rect x="126.51" y="616.33" width="6.8" height="6.8" fill="#008000"/>
<rect x="146.3" y="595.71" width="6.8" height="6.8" fill="#008000"/>
<rect x="166.09" y="596.48" width="6.8" height="6.8" fill="#008000"/>
<rect x="185.88" y="591.13" width="6.8" height="6.8" fill="#008000"/>
<rect x="304.61" y="548.37" width="6.8" height="6.8" fill="#008000"/>
<polyline points="70.55,691.5 90.34,679.28 110.13,647.21 129.91,612.55 149.7,590.71 169.49,591.48 189.28,587.66 308.01,547.96" fill="none" stroke="#000" stroke-width="3" stroke-linejoin="round" stroke-linecap="butt"/>
<rect x="67.05" y="688" width="7" height="7" fill="#000"/>
<rect x="86.84" y="675.78" width="7" height="7" fill="#000"/>
<rect x="106.63" y="643.71" width="7" height="7" fill="#000"/>
<rect x="126.41" y="609.05" width="7" height="7" fill="#000"/>
<rect x="146.2" y="587.21" width="7" height="7" fill="#000"/>
<rect x="165.99" y="587.98" width="7" height="7" fill="#000"/>
<rect x="185.78" y="584.16" width="7" height="7" fill="#000"/>
<rect x="304.51" y="544.46" width="7" height="7" fill="#000"/>
<polyline points="70.55,699.13 90.34,683.86 110.13,658.66 129.91,618.81 149.7,595.29 169.49,596.06 189.28,591.48 308.01,548.72" fill="none" stroke="#000" stroke-width="3" stroke-linejoin="round" stroke-linecap="butt"/>
<path d="M70.55 695.72L74.12 701.89L66.97 701.89Z" fill="#fff" stroke="#000" stroke-width="1.7" stroke-linejoin="miter"/>
<path d="M90.34 680.45L93.91 686.62L86.76 686.62Z" fill="#fff" stroke="#000" stroke-width="1.7" stroke-linejoin="miter"/>
<path d="M110.13 655.25L113.7 661.43L106.55 661.43Z" fill="#fff" stroke="#000" stroke-width="1.7" stroke-linejoin="miter"/>
<path d="M129.91 615.4L133.49 621.57L126.34 621.57Z" fill="#fff" stroke="#000" stroke-width="1.7" stroke-linejoin="miter"/>
<path d="M149.7 591.88L153.28 598.06L146.13 598.06Z" fill="#fff" stroke="#000" stroke-width="1.7" stroke-linejoin="miter"/>
<path d="M169.49 592.64L173.06 598.82L165.92 598.82Z" fill="#fff" stroke="#000" stroke-width="1.7" stroke-linejoin="miter"/>
<path d="M189.28 588.06L192.85 594.24L185.7 594.24Z" fill="#fff" stroke="#000" stroke-width="1.7" stroke-linejoin="miter"/>
<path d="M308.01 545.31L311.58 551.48L304.43 551.48Z" fill="#fff" stroke="#000" stroke-width="1.7" stroke-linejoin="miter"/>
<polyline points="70.55,700.66 90.34,683.86 110.13,663.4 129.91,630.41 149.7,605.98 169.49,606.75 189.28,599.88 308.01,557.12" fill="none" stroke="#000" stroke-width="3" stroke-linejoin="round" stroke-linecap="butt"/>
<circle cx="70.55" cy="700.66" r="3.5" fill="#000"/>
<circle cx="90.34" cy="683.86" r="3.5" fill="#000"/>
<circle cx="110.13" cy="663.4" r="3.5" fill="#000"/>
<circle cx="129.91" cy="630.41" r="3.5" fill="#000"/>
<circle cx="149.7" cy="605.98" r="3.5" fill="#000"/>
<circle cx="169.49" cy="606.75" r="3.5" fill="#000"/>
<circle cx="189.28" cy="599.88" r="3.5" fill="#000"/>
<circle cx="308.01" cy="557.12" r="3.5" fill="#000"/>
<polyline points="70.55,699.13 90.34,683.86 110.13,659.43 129.91,625.83 149.7,602.17 169.49,604.46 189.28,599.88 308.01,552.54" fill="none" stroke="#000" stroke-width="3" stroke-linejoin="round" stroke-linecap="butt"/>
<path d="M70.55 695.19L74.67 702.32L66.42 702.32Z" fill="#000"/>
<path d="M90.34 679.92L94.46 687.05L86.21 687.05Z" fill="#000"/>
<path d="M110.13 655.49L114.25 662.62L106 662.62Z" fill="#000"/>
<path d="M129.91 621.9L134.04 629.02L125.79 629.02Z" fill="#000"/>
<path d="M149.7 598.23L153.83 605.35L145.58 605.35Z" fill="#000"/>
<path d="M169.49 600.52L173.62 607.64L165.37 607.64Z" fill="#000"/>
<path d="M189.28 595.94L193.4 603.06L185.15 603.06Z" fill="#000"/>
<path d="M308.01 548.6L312.13 555.73L303.88 555.73Z" fill="#000"/>
<path d="M308.01 543.38L308.01 552.54M305.41 543.38L310.61 543.38M305.41 552.54L310.61 552.54" stroke="#000" stroke-width="1.5" fill="none"/>
<text transform="translate(375.5 552.2) scale(1.030 1.000)" font-size="15.2">+PCA (&#181;g/ml)</text>
<rect x="348" y="559" width="148.6" height="144.6" fill="none" stroke="#111" stroke-width="1.25"/>
<line x1="353.5" y1="574.7" x2="385.5" y2="574.7" stroke="#008000" stroke-width="3"/>
<rect x="365" y="570.2" width="9" height="9" fill="#008000"/>
<text x="389.2" y="579" font-size="13.25">BY4741+0</text>
<line x1="353.5" y1="603.35" x2="385.5" y2="603.35" stroke="#000" stroke-width="1.6"/>
<rect x="365.9" y="599.75" width="7.2" height="7.2" fill="#000"/>
<text x="389.2" y="607.65" font-size="13.25"><tspan font-style="italic">tsc10-DAmP</tspan>+0</text>
<line x1="353.5" y1="632" x2="385.5" y2="632" stroke="#000" stroke-width="1.6"/>
<path d="M369.5 627.27L374.45 635.83L364.55 635.83Z" fill="#fff" stroke="#000" stroke-width="1.3" stroke-linejoin="miter"/>
<text x="389.2" y="636.3" font-size="13.25"><tspan font-style="italic">mcm2-DAmP</tspan>+0</text>
<line x1="353.5" y1="660.65" x2="385.5" y2="660.65" stroke="#000" stroke-width="1.6"/>
<circle cx="369.5" cy="660.65" r="4.5" fill="#000"/>
<text x="389.2" y="664.95" font-size="13.25"><tspan font-style="italic">uba2-DAmP</tspan>+0</text>
<line x1="353.5" y1="689.3" x2="385.5" y2="689.3" stroke="#000" stroke-width="1.6"/>
<path d="M369.5 683.95L375.11 693.64L363.89 693.64Z" fill="#000"/>
<text x="389.2" y="693.6" font-size="13.25"><tspan font-style="italic">utp5-DAmP</tspan>+0</text>
<line x1="80" y1="890.02" x2="328" y2="890.02" stroke="#e4e4e4" stroke-width="1"/>
<line x1="80" y1="859.44" x2="328" y2="859.44" stroke="#e4e4e4" stroke-width="1"/>
<line x1="80" y1="828.86" x2="328" y2="828.86" stroke="#e4e4e4" stroke-width="1"/>
<line x1="80" y1="798.28" x2="328" y2="798.28" stroke="#e4e4e4" stroke-width="1"/>
<line x1="80" y1="767.7" x2="328" y2="767.7" stroke="#e4e4e4" stroke-width="1"/>
<line x1="80" y1="737.12" x2="328" y2="737.12" stroke="#e4e4e4" stroke-width="1"/>
<line x1="70.55" y1="735.72" x2="70.55" y2="922" stroke="#000" stroke-width="2.8"/>
<line x1="70.55" y1="920.6" x2="76.95" y2="920.6" stroke="#000" stroke-width="2.8"/>
<text transform="translate(64.25 928.9) scale(1.000 1.060)" font-size="14.9" text-anchor="end">0.0</text>
<line x1="70.55" y1="890.02" x2="76.95" y2="890.02" stroke="#000" stroke-width="2.8"/>
<text transform="translate(64.25 898.32) scale(1.000 1.060)" font-size="14.9" text-anchor="end">0.2</text>
<line x1="70.55" y1="859.44" x2="76.95" y2="859.44" stroke="#000" stroke-width="2.8"/>
<text transform="translate(64.25 867.74) scale(1.000 1.060)" font-size="14.9" text-anchor="end">0.4</text>
<line x1="70.55" y1="828.86" x2="76.95" y2="828.86" stroke="#000" stroke-width="2.8"/>
<text transform="translate(64.25 837.16) scale(1.000 1.060)" font-size="14.9" text-anchor="end">0.6</text>
<line x1="70.55" y1="798.28" x2="76.95" y2="798.28" stroke="#000" stroke-width="2.8"/>
<text transform="translate(64.25 806.58) scale(1.000 1.060)" font-size="14.9" text-anchor="end">0.8</text>
<line x1="70.55" y1="767.7" x2="76.95" y2="767.7" stroke="#000" stroke-width="2.8"/>
<text transform="translate(64.25 776) scale(1.000 1.060)" font-size="14.9" text-anchor="end">1.0</text>
<line x1="70.55" y1="737.12" x2="76.95" y2="737.12" stroke="#000" stroke-width="2.8"/>
<text transform="translate(64.25 745.42) scale(1.000 1.060)" font-size="14.9" text-anchor="end">1.2</text>
<line x1="69.15" y1="920.6" x2="328.7" y2="920.6" stroke="#000" stroke-width="2.8"/>
<line x1="110.13" y1="920.6" x2="110.13" y2="914.2" stroke="#000" stroke-width="2.8"/>
<line x1="149.7" y1="920.6" x2="149.7" y2="914.2" stroke="#000" stroke-width="2.8"/>
<line x1="189.28" y1="920.6" x2="189.28" y2="914.2" stroke="#000" stroke-width="2.8"/>
<line x1="228.85" y1="920.6" x2="228.85" y2="914.2" stroke="#000" stroke-width="2.8"/>
<line x1="268.43" y1="920.6" x2="268.43" y2="914.2" stroke="#000" stroke-width="2.8"/>
<line x1="308.01" y1="920.6" x2="308.01" y2="914.2" stroke="#000" stroke-width="2.8"/>
<text transform="translate(70.55 942) scale(1.000 1.060)" font-size="14.8" text-anchor="middle">0</text>
<text transform="translate(110.13 942) scale(1.000 1.060)" font-size="14.8" text-anchor="middle">4</text>
<text transform="translate(149.7 942) scale(1.000 1.060)" font-size="14.8" text-anchor="middle">8</text>
<text transform="translate(189.28 942) scale(1.000 1.060)" font-size="14.8" text-anchor="middle">12</text>
<text transform="translate(228.85 942) scale(1.000 1.060)" font-size="14.8" text-anchor="middle">16</text>
<text transform="translate(268.43 942) scale(1.000 1.060)" font-size="14.8" text-anchor="middle">20</text>
<text transform="translate(308.01 942) scale(1.000 1.060)" font-size="14.8" text-anchor="middle">24</text>
<text transform="translate(85.5 757.4) scale(1.055 1.060)" font-size="14.6">YPD+20&#181;g/ml PCA</text>
<text transform="translate(32.6 832.56) rotate(-90)" font-size="15.6" font-weight="bold" text-anchor="middle">OD<tspan font-size="10" dy="1.2">600</tspan></text>
<polyline points="70.55,900.72 90.34,893.08 110.13,872.44 129.91,842.62 149.7,815.1 169.49,819.69 189.28,820.45 308.01,824.27" fill="none" stroke="#ff0000" stroke-width="3.2" stroke-linejoin="round" stroke-linecap="butt"/>
<rect x="66.55" y="896.72" width="8" height="8" fill="#ff0000"/>
<rect x="86.34" y="889.08" width="8" height="8" fill="#ff0000"/>
<rect x="106.13" y="868.44" width="8" height="8" fill="#ff0000"/>
<rect x="125.91" y="838.62" width="8" height="8" fill="#ff0000"/>
<rect x="145.7" y="811.1" width="8" height="8" fill="#ff0000"/>
<rect x="165.49" y="815.69" width="8" height="8" fill="#ff0000"/>
<rect x="185.28" y="816.45" width="8" height="8" fill="#ff0000"/>
<rect x="304.01" y="820.27" width="8" height="8" fill="#ff0000"/>
<polyline points="70.55,902.25 90.34,896.14 110.13,881.61 129.91,843.39 149.7,811.12 169.49,808.98 189.28,806.69 308.01,808.98" fill="none" stroke="#000" stroke-width="3" stroke-linejoin="round" stroke-linecap="butt"/>
<rect x="67.05" y="898.75" width="7" height="7" fill="#000"/>
<rect x="86.84" y="892.64" width="7" height="7" fill="#000"/>
<rect x="106.63" y="878.11" width="7" height="7" fill="#000"/>
<rect x="126.41" y="839.89" width="7" height="7" fill="#000"/>
<rect x="146.2" y="807.62" width="7" height="7" fill="#000"/>
<rect x="165.99" y="805.48" width="7" height="7" fill="#000"/>
<rect x="185.78" y="803.19" width="7" height="7" fill="#000"/>
<rect x="304.51" y="805.48" width="7" height="7" fill="#000"/>
<polyline points="70.55,900.72 90.34,894.61 110.13,876.26 129.91,850.27 149.7,820.45 169.49,819.69 189.28,819.69 308.01,825.8" fill="none" stroke="#000" stroke-width="3" stroke-linejoin="round" stroke-linecap="butt"/>
<path d="M70.55 897.15L74.29 903.61L66.81 903.61Z" fill="#fff" stroke="#000" stroke-width="1.7" stroke-linejoin="miter"/>
<path d="M90.34 891.04L94.08 897.5L86.6 897.5Z" fill="#fff" stroke="#000" stroke-width="1.7" stroke-linejoin="miter"/>
<path d="M110.13 872.69L113.87 879.15L106.39 879.15Z" fill="#fff" stroke="#000" stroke-width="1.7" stroke-linejoin="miter"/>
<path d="M129.91 846.7L133.65 853.16L126.17 853.16Z" fill="#fff" stroke="#000" stroke-width="1.7" stroke-linejoin="miter"/>
<path d="M149.7 816.88L153.44 823.34L145.96 823.34Z" fill="#fff" stroke="#000" stroke-width="1.7" stroke-linejoin="miter"/>
<path d="M169.49 816.12L173.23 822.58L165.75 822.58Z" fill="#fff" stroke="#000" stroke-width="1.7" stroke-linejoin="miter"/>
<path d="M189.28 816.12L193.02 822.58L185.54 822.58Z" fill="#fff" stroke="#000" stroke-width="1.7" stroke-linejoin="miter"/>
<path d="M308.01 822.23L311.75 828.69L304.27 828.69Z" fill="#fff" stroke="#000" stroke-width="1.7" stroke-linejoin="miter"/>
<polyline points="70.55,902.25 90.34,896.9 110.13,887.73 129.91,882.38 149.7,879.32 169.49,880.85 189.28,876.26 308.01,857.91" fill="none" stroke="#000" stroke-width="3" stroke-linejoin="round" stroke-linecap="butt"/>
<circle cx="70.55" cy="902.25" r="3.5" fill="#000"/>
<circle cx="90.34" cy="896.9" r="3.5" fill="#000"/>
<circle cx="110.13" cy="887.73" r="3.5" fill="#000"/>
<circle cx="129.91" cy="882.38" r="3.5" fill="#000"/>
<circle cx="149.7" cy="879.32" r="3.5" fill="#000"/>
<circle cx="169.49" cy="880.85" r="3.5" fill="#000"/>
<circle cx="189.28" cy="876.26" r="3.5" fill="#000"/>
<circle cx="308.01" cy="857.91" r="3.5" fill="#000"/>
<polyline points="70.55,905.31 90.34,899.96 110.13,899.19 129.91,895.37 149.7,891.55 169.49,893.08 189.28,892.31 308.01,890.02" fill="none" stroke="#000" stroke-width="3" stroke-linejoin="round" stroke-linecap="butt"/>
<path d="M70.55 901.37L74.67 908.5L66.42 908.5Z" fill="#000"/>
<path d="M90.34 896.02L94.46 903.15L86.21 903.15Z" fill="#000"/>
<path d="M110.13 895.26L114.25 902.38L106 902.38Z" fill="#000"/>
<path d="M129.91 891.43L134.04 898.56L125.79 898.56Z" fill="#000"/>
<path d="M149.7 887.61L153.83 894.74L145.58 894.74Z" fill="#000"/>
<path d="M169.49 889.14L173.62 896.27L165.37 896.27Z" fill="#000"/>
<path d="M189.28 888.38L193.4 895.5L185.15 895.5Z" fill="#000"/>
<path d="M308.01 886.08L312.13 893.21L303.88 893.21Z" fill="#000"/>
<path d="M129.91 828.86L129.91 859.44M127.31 828.86L132.51 828.86M127.31 859.44L132.51 859.44" stroke="#000" stroke-width="1.5" fill="none"/>
<path d="M149.7 798.28L149.7 822.74M147.1 798.28L152.3 798.28M147.1 822.74L152.3 822.74" stroke="#000" stroke-width="1.5" fill="none"/>
<path d="M169.49 803.17L169.49 813.57M166.89 803.17L172.09 803.17M166.89 813.57L172.09 813.57" stroke="#000" stroke-width="1.5" fill="none"/>
<path d="M189.28 801.34L189.28 812.04M186.68 801.34L191.88 801.34M186.68 812.04L191.88 812.04" stroke="#000" stroke-width="1.5" fill="none"/>
<path d="M308.01 799.5L308.01 822.74M305.41 799.5L310.61 799.5M305.41 822.74L310.61 822.74" stroke="#000" stroke-width="1.5" fill="none"/>
<path d="M169.49 818.16L169.49 823.97M166.89 818.16L172.09 818.16M166.89 823.97L172.09 823.97" stroke="#000" stroke-width="1.5" fill="none"/>
<path d="M189.28 818.16L189.28 823.51M186.68 818.16L191.88 818.16M186.68 823.51L191.88 823.51" stroke="#000" stroke-width="1.5" fill="none"/>
<path d="M308.01 887.73L308.01 891.55M305.41 887.73L310.61 887.73M305.41 891.55L310.61 891.55" stroke="#000" stroke-width="1.5" fill="none"/>
<text transform="translate(375.5 757.8) scale(1.030 1.000)" font-size="15.2">+PCA (&#181;g/ml)</text>
<rect x="348" y="764.2" width="148.6" height="145.3" fill="none" stroke="#111" stroke-width="1.25"/>
<line x1="353.5" y1="779.3" x2="385.5" y2="779.3" stroke="#ff0000" stroke-width="3"/>
<rect x="365" y="774.8" width="9" height="9" fill="#ff0000"/>
<text x="389.2" y="783.6" font-size="13.25">BY4741+20</text>
<line x1="353.5" y1="808.45" x2="385.5" y2="808.45" stroke="#000" stroke-width="1.6"/>
<rect x="365.9" y="804.85" width="7.2" height="7.2" fill="#000"/>
<text x="389.2" y="812.75" font-size="13.25"><tspan font-style="italic">tsc10-DAmP</tspan>+20</text>
<line x1="353.5" y1="837.6" x2="385.5" y2="837.6" stroke="#000" stroke-width="1.6"/>
<path d="M369.5 832.87L374.45 841.42L364.55 841.42Z" fill="#fff" stroke="#000" stroke-width="1.3" stroke-linejoin="miter"/>
<text x="389.2" y="841.9" font-size="13.25"><tspan font-style="italic">mcm2-DAmP</tspan>+20</text>
<line x1="353.5" y1="866.75" x2="385.5" y2="866.75" stroke="#000" stroke-width="1.6"/>
<circle cx="369.5" cy="866.75" r="4.5" fill="#000"/>
<text x="389.2" y="871.05" font-size="13.25"><tspan font-style="italic">uba2-DAmP</tspan>+20</text>
<line x1="353.5" y1="895.9" x2="385.5" y2="895.9" stroke="#000" stroke-width="1.6"/>
<path d="M369.5 890.54L375.11 900.24L363.89 900.24Z" fill="#000"/>
<text x="389.2" y="900.2" font-size="13.25"><tspan font-style="italic">utp5-DAmP</tspan>+20</text>
<text transform="translate(190.6 962.4) scale(1.055 1.000)" font-size="14.4" text-anchor="middle">Time (h)</text>
</svg>
</body></html>
